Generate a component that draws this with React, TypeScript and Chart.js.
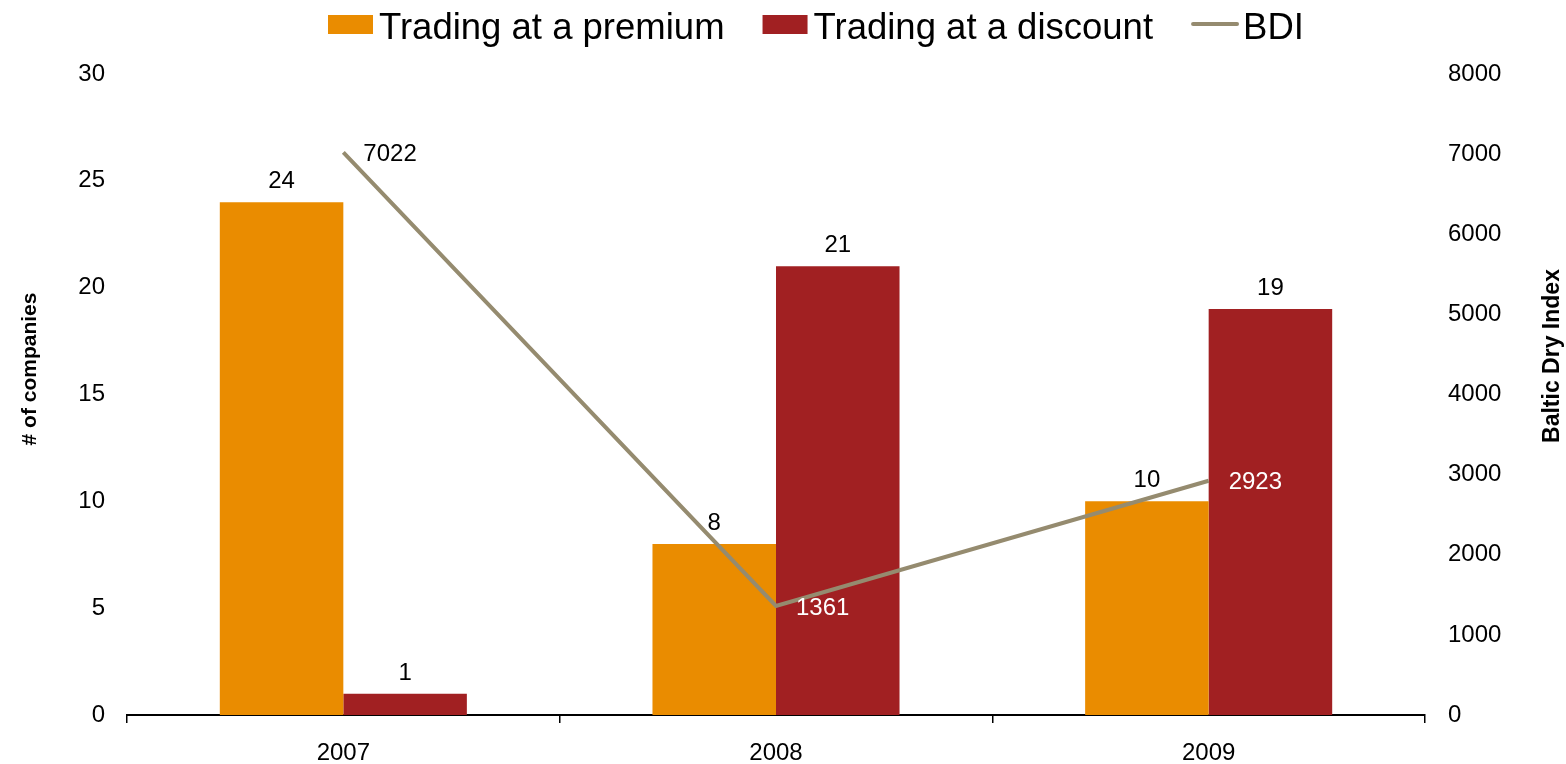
import { useEffect, useRef } from 'react';
import { Chart, registerables } from 'chart.js';

Chart.register(...registerables);

const categories = ['2007', '2008', '2009'];
const premiumCounts = [24, 8, 10];
const discountCounts = [1, 21, 19];
const bdiValues = [7022, 1361, 2923];
const seriesNames = ['Trading at a premium', 'Trading at a discount', 'BDI'];
const leftAxisTitle = '# of companies';
const rightAxisTitle = 'Baltic Dry Index';
const leftMax = 30;
const leftStep = 5;
const rightMax = 8000;
const rightStep = 1000;

const FONT = '"Liberation Sans", Arial, Helvetica, sans-serif';
const ORANGE = '#EA8C00';
const RED = '#A12022';
const LINE = '#958B6F';

const labelsPlugin = {
  id: 'customLabels',
  afterDatasetsDraw(chart: any) {
    const ctx = chart.ctx;
    ctx.save();
    ctx.font = `24px ${FONT}`;
    [0, 1].forEach((di) => {
      const meta = chart.getDatasetMeta(di);
      meta.data.forEach((el: any, i: number) => {
        ctx.fillStyle = '#000';
        ctx.textAlign = 'center';
        ctx.textBaseline = 'alphabetic';
        ctx.fillText(String(chart.data.datasets[di].data[i]), el.x, el.y - 14);
      });
    });
    const lm = chart.getDatasetMeta(2);
    const barMeta = chart.getDatasetMeta(1);
    lm.data.forEach((el: any, i: number) => {
      const bar = barMeta.data[i];
      const inside = bar && el.y + 2 > bar.y;
      ctx.fillStyle = inside ? '#fff' : '#000';
      ctx.textAlign = 'left';
      ctx.textBaseline = 'middle';
      ctx.fillText(String(bdiValues[i]), el.x + 20, el.y + 2);
    });
    ctx.restore();
  },
  afterDraw(chart: any) {
    const ctx = chart.ctx;
    ctx.save();
    // legend
    ctx.font = `36.5px ${FONT}`;
    ctx.textBaseline = 'alphabetic';
    ctx.textAlign = 'left';
    let x = 328;
    const colors = [ORANGE, RED];
    seriesNames.forEach((name, i) => {
      if (i < 2) {
        ctx.fillStyle = colors[i];
        ctx.fillRect(x, 15, 45, 19);
        x += 51;
      } else {
        ctx.strokeStyle = LINE;
        ctx.lineWidth = 4;
        ctx.lineCap = 'round';
        ctx.beginPath();
        ctx.moveTo(x + 2, 24);
        ctx.lineTo(x + 46, 24);
        ctx.stroke();
        x += 52;
      }
      ctx.fillStyle = '#000';
      ctx.fillText(name, x, 39);
      x += ctx.measureText(name).width + 38;
    });
    // axis titles
    ctx.fillStyle = '#000';
    ctx.textAlign = 'center';
    ctx.textBaseline = 'middle';
    ctx.save();
    ctx.translate(30, 369);
    ctx.rotate(-Math.PI / 2);
    ctx.font = `bold 21px ${FONT}`;
    ctx.fillText(leftAxisTitle, 0, 0);
    ctx.restore();
    ctx.save();
    ctx.translate(1553, 356);
    ctx.rotate(-Math.PI / 2);
    ctx.font = `bold 23px ${FONT}`;
    ctx.fillText(rightAxisTitle, 0, 0);
    ctx.restore();
    ctx.restore();
  },
};

export default function App() {
  const ref = useRef<HTMLCanvasElement | null>(null);
  useEffect(() => {
    if (!ref.current) return;
    const chart = new Chart(ref.current, {
      type: 'bar',
      data: {
        labels: categories,
        datasets: [
          {
            type: 'bar',
            label: seriesNames[0],
            data: premiumCounts,
            backgroundColor: ORANGE,
            yAxisID: 'y',
            order: 1,
            categoryPercentage: 0.571,
            barPercentage: 1,
          },
          {
            type: 'bar',
            label: seriesNames[1],
            data: discountCounts,
            backgroundColor: RED,
            yAxisID: 'y',
            order: 1,
            categoryPercentage: 0.571,
            barPercentage: 1,
          },
          {
            type: 'line',
            label: seriesNames[2],
            data: bdiValues,
            borderColor: LINE,
            backgroundColor: LINE,
            borderWidth: 4,
            pointRadius: 0,
            tension: 0,
            yAxisID: 'y1',
            order: 0,
          } as any,
        ],
      },
      options: {
        animation: false,
        responsive: false,
        maintainAspectRatio: false,
        layout: { padding: { top: 74, left: 0, right: 0, bottom: 0 } },
        plugins: {
          legend: { display: false },
          tooltip: { enabled: false },
        },
        scales: {
          x: {
            grid: {
              display: true,
              offset: true,
              drawOnChartArea: false,
              drawTicks: true,
              tickLength: 8,
              color: '#000',
              lineWidth: 1.5,
            },
            border: { display: true, color: '#000', width: 2 },
            ticks: {
              color: '#000',
              font: { family: FONT, size: 24 },
              padding: 16,
            },
            afterFit(scale: any) {
              scale.height = 49;
            },
          },
          y: {
            position: 'left',
            min: 0,
            max: leftMax,
            ticks: {
              stepSize: leftStep,
              color: '#000',
              font: { family: FONT, size: 24 },
              padding: 22,
            },
            grid: { display: false, drawTicks: false },
            border: { display: false },
            afterFit(scale: any) {
              scale.width = 127;
            },
          },
          y1: {
            position: 'right',
            min: 0,
            max: rightMax,
            ticks: {
              stepSize: rightStep,
              color: '#000',
              font: { family: FONT, size: 24 },
              padding: 23,
              callback: (v: any) => String(v),
            },
            grid: { display: false, drawTicks: false },
            border: { display: false },
            afterFit(scale: any) {
              scale.width = 141;
            },
          },
        },
      },
      plugins: [labelsPlugin],
    });
    return () => chart.destroy();
  }, []);
  return (
    <div style={{ position: 'absolute', left: 0, top: 0, width: 1566, height: 764 }}>
      <canvas ref={ref} width={1566} height={764} style={{ width: 1566, height: 764, display: 'block' }} />
    </div>
  );
}
